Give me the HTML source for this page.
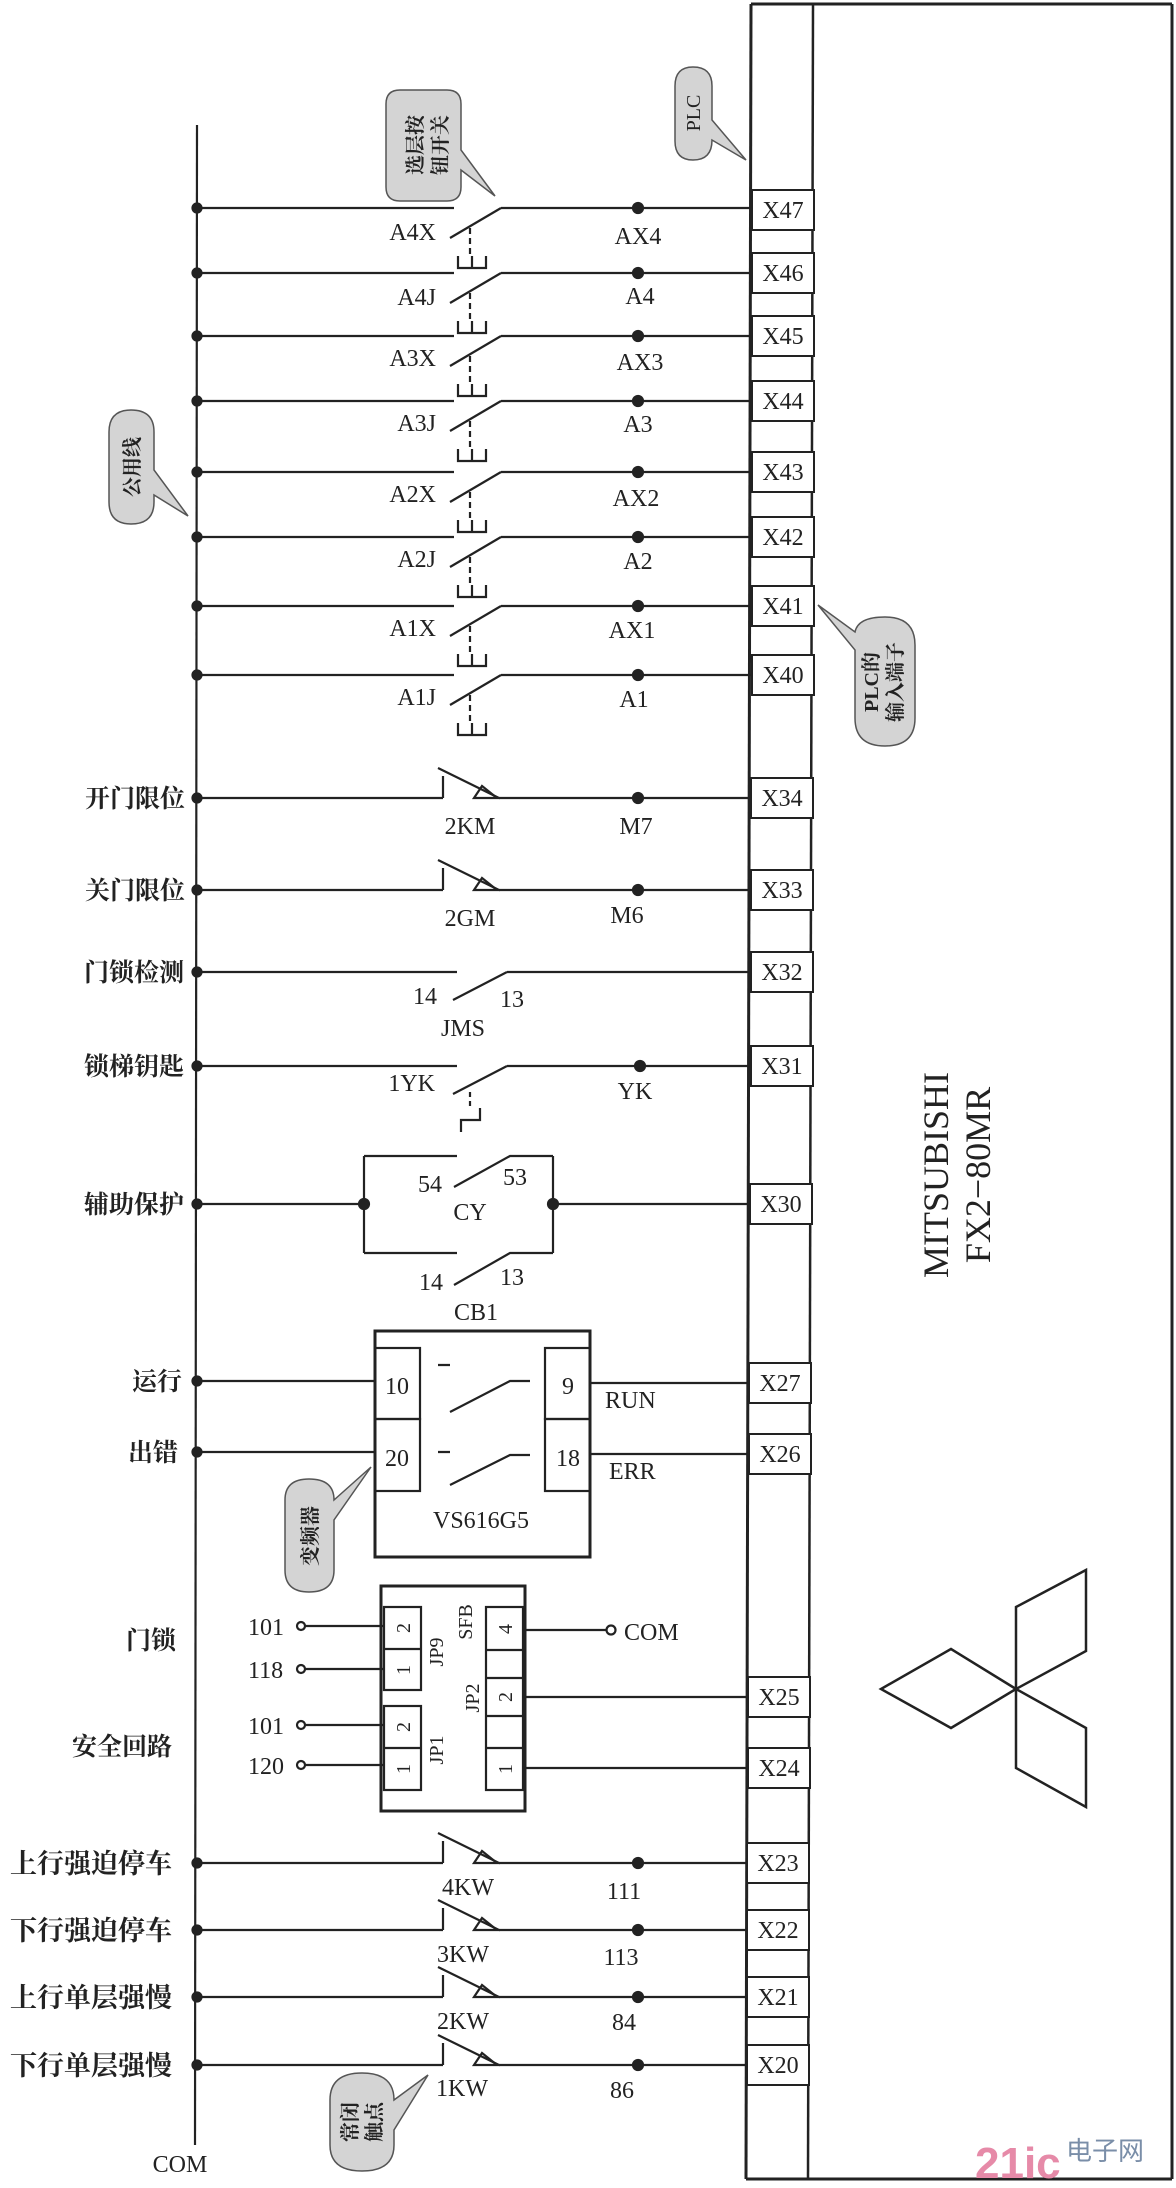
<!DOCTYPE html>
<html><head><meta charset="utf-8"><style>
html,body{margin:0;padding:0;background:#fff;}
svg{display:block;}
text{font-family:"Liberation Serif","Noto Serif CJK SC",serif;fill:#222;}
.cn{font-family:"Liberation Serif","Noto Serif CJK SC",serif;font-weight:bold;font-size:25px;}
.l{font-size:24px;}
</style></head><body>
<svg width="1176" height="2188" viewBox="0 0 1176 2188" xmlns="http://www.w3.org/2000/svg">
<defs>
<g id="top">
<line x1="197" y1="0" x2="454" y2="0"/>
<line x1="450" y1="30" x2="501" y2="0"/>
<line x1="501" y1="0" x2="752" y2="0"/>
<circle cx="638" cy="0" r="5" fill="#222"/>
<circle cx="197" cy="0" r="4.5" fill="#222"/>
<line x1="470" y1="20" x2="470" y2="46" stroke-dasharray="6,4"/>
<path d="M458,48 V60 H486 V48 M472,48 V60" fill="none"/>
</g>
<g id="nc">
<line x1="197" y1="0" x2="443" y2="0"/>
<line x1="443" y1="0" x2="443" y2="-22"/>
<line x1="438" y1="-30" x2="499" y2="0"/>
<path d="M474,0 L497,0 L482,-12 Z" fill="none"/>
<line x1="499" y1="0" x2="752" y2="0"/>
<circle cx="638" cy="0" r="5" fill="#222"/>
<circle cx="197" cy="0" r="4.5" fill="#222"/>
</g>
</defs>
<g stroke="#222" stroke-width="2.2" fill="none">
<line x1="751" y1="4" x2="1172" y2="4" stroke-width="3"/>
<line x1="751" y1="4" x2="746" y2="2179" stroke-width="3"/>
<line x1="813" y1="4" x2="808" y2="2179" stroke-width="2.5"/>
<line x1="1172" y1="4" x2="1172" y2="2179" stroke-width="3"/>
<line x1="746" y1="2179" x2="1172" y2="2179" stroke-width="3"/>
<line x1="197" y1="125" x2="195" y2="2145"/>
<use href="#top" y="208"/><use href="#top" y="273"/><use href="#top" y="336"/><use href="#top" y="401"/>
<use href="#top" y="472"/><use href="#top" y="537"/><use href="#top" y="606"/><use href="#top" y="675"/>
<use href="#nc" y="798"/><use href="#nc" y="890"/>
<line x1="197" y1="972" x2="457" y2="972"/><line x1="453" y1="1000" x2="507" y2="972"/><line x1="507" y1="972" x2="752" y2="972"/>
<circle cx="197" cy="972" r="4.5" fill="#222"/>
<line x1="197" y1="1066" x2="457" y2="1066"/><line x1="453" y1="1094" x2="507" y2="1066"/><line x1="507" y1="1066" x2="752" y2="1066"/>
<circle cx="197" cy="1066" r="4.5" fill="#222"/><circle cx="640" cy="1066" r="5" fill="#222"/>
<line x1="470" y1="1092" x2="470" y2="1108" stroke-dasharray="5,4"/>
<path d="M461,1132 V1120 H480 V1108" />
<line x1="197" y1="1204" x2="364" y2="1204"/><line x1="553" y1="1204" x2="752" y2="1204"/>
<circle cx="197" cy="1204" r="4.5" fill="#222"/><circle cx="364" cy="1204" r="5" fill="#222"/><circle cx="553" cy="1204" r="5" fill="#222"/>
<path d="M364,1156 V1253 M553,1156 V1253 M364,1156 H457 M454,1187 L510,1156 H553 M364,1253 H457 M454,1285 L510,1253 H553"/>
<rect x="375" y="1331" width="215" height="226" stroke-width="3"/>
<rect x="375" y="1348" width="45" height="71"/><rect x="375" y="1419" width="45" height="72"/>
<rect x="545" y="1348" width="45" height="71"/><rect x="545" y="1419" width="45" height="72"/>
<line x1="197" y1="1381" x2="375" y2="1381"/><line x1="197" y1="1452" x2="375" y2="1452"/>
<circle cx="197" cy="1381" r="4.5" fill="#222"/><circle cx="197" cy="1452" r="4.5" fill="#222"/>
<line x1="590" y1="1383" x2="752" y2="1383"/><line x1="590" y1="1454" x2="752" y2="1454"/>
<path d="M438,1365 H450 M450,1412 L510,1381 H530 M438,1452 H450 M450,1485 L510,1455 H530"/>
<rect x="381" y="1586" width="144" height="225" stroke-width="3"/>
<rect x="384" y="1607" width="37" height="83"/><line x1="384" y1="1649" x2="421" y2="1649"/>
<rect x="384" y="1706" width="37" height="84"/><line x1="384" y1="1748" x2="421" y2="1748"/>
<rect x="486" y="1607" width="37" height="183"/>
<line x1="486" y1="1650" x2="523" y2="1650"/><line x1="486" y1="1678" x2="523" y2="1678"/>
<line x1="486" y1="1716" x2="523" y2="1716"/><line x1="486" y1="1748" x2="523" y2="1748"/>
<path d="M305,1626 H384 M305,1669 H384 M305,1725 H384 M305,1765 H384 M523,1630 H606 M523,1697 H752 M523,1768 H752"/>
<circle cx="301" cy="1626" r="4"/><circle cx="301" cy="1669" r="4"/><circle cx="301" cy="1725" r="4"/><circle cx="301" cy="1765" r="4"/><circle cx="611" cy="1630" r="4.5"/>
<use href="#nc" y="1863"/><use href="#nc" y="1930"/><use href="#nc" y="1997"/><use href="#nc" y="2065"/>
<g fill="#fff" stroke-width="2">
<rect x="752" y="190" width="62" height="40"/><rect x="752" y="253" width="62" height="40"/><rect x="752" y="316" width="62" height="40"/><rect x="752" y="381" width="62" height="40"/>
<rect x="752" y="452" width="62" height="40"/><rect x="752" y="517" width="62" height="40"/><rect x="752" y="586" width="62" height="40"/><rect x="752" y="655" width="62" height="40"/>
<rect x="751" y="778" width="62" height="40"/><rect x="751" y="870" width="62" height="40"/><rect x="751" y="952" width="62" height="40"/><rect x="751" y="1046" width="62" height="40"/>
<rect x="750" y="1184" width="62" height="40"/><rect x="749" y="1363" width="62" height="40"/><rect x="749" y="1434" width="62" height="40"/>
<rect x="748" y="1677" width="62" height="40"/><rect x="748" y="1748" width="62" height="40"/><rect x="747" y="1843" width="62" height="40"/>
<rect x="747" y="1910" width="62" height="40"/><rect x="747" y="1977" width="62" height="40"/><rect x="747" y="2045" width="62" height="40"/>
</g>
<path d="M1016,1689 L1016,1607 L1086,1570 L1086,1651 Z M1016,1689 L1086,1728 L1086,1807 L1016,1768 Z M1016,1689 L951,1649 L881,1689 L951,1728 Z" stroke-width="2.5"/>
<g fill="#d4d4d4" stroke="#555" stroke-width="1.5">
<path d="M400,90 H447 Q461,90 461,104 V150 L495,196 L461,170 V187 Q461,201 447,201 H400 Q386,201 386,187 V104 Q386,90 400,90 Z"/>
<path d="M693,67 Q712,67 712,86 V120 L746,160 L712,140 Q712,160 693,160 Q675,160 675,141 V86 Q675,67 693,67 Z"/>
<path d="M131,410 Q154,410 154,432 V470 L188,516 L154,495 V502 Q154,524 131,524 Q109,524 109,502 V432 Q109,410 131,410 Z"/>
<path d="M885,617 Q915,617 915,645 V718 Q915,746 885,746 Q855,746 855,718 V650 L818,605 L855,632 Q858,617 885,617 Z"/>
<path d="M309,1479 Q334,1479 334,1500 L371,1467 L334,1520 V1570 Q334,1592 309,1592 Q285,1592 285,1570 V1500 Q285,1479 309,1479 Z"/>
<path d="M362,2073 Q394,2073 394,2100 L428,2075 L394,2130 V2145 Q394,2171 362,2171 Q330,2171 330,2145 V2100 Q330,2073 362,2073 Z"/>
</g>
</g>
<g class="cn" font-size="20">
<text transform="translate(422,145) rotate(-90)" text-anchor="middle" style="font-size:20px">选层按</text>
<text transform="translate(447,145) rotate(-90)" text-anchor="middle" style="font-size:20px">钮开关</text>
<text transform="translate(700,113) rotate(-90)" text-anchor="middle" style="font-family:'Liberation Serif';font-size:20px;font-weight:normal">PLC</text>
<text transform="translate(139,467) rotate(-90)" text-anchor="middle" style="font-size:20px">公用线</text>
<text transform="translate(878,682) rotate(-90)" text-anchor="middle" style="font-size:20px">PLC的</text>
<text transform="translate(902,682) rotate(-90)" text-anchor="middle" style="font-size:20px">输入端子</text>
<text transform="translate(317,1536) rotate(-90)" text-anchor="middle" style="font-size:20px">变频器</text>
<text transform="translate(357,2122) rotate(-90)" text-anchor="middle" style="font-size:20px">常闭</text>
<text transform="translate(381,2122) rotate(-90)" text-anchor="middle" style="font-size:20px">触点</text>
</g>
<g class="l">
<g text-anchor="end">
<text x="436" y="240">A4X</text><text x="436" y="305">A4J</text><text x="436" y="366">A3X</text><text x="436" y="431">A3J</text>
<text x="436" y="502">A2X</text><text x="436" y="567">A2J</text><text x="436" y="636">A1X</text><text x="436" y="705">A1J</text>
<text x="435" y="1091">1YK</text>
</g>
<g text-anchor="middle">
<text x="638" y="244">AX4</text><text x="640" y="304">A4</text><text x="640" y="370">AX3</text><text x="638" y="432">A3</text>
<text x="636" y="506">AX2</text><text x="638" y="569">A2</text><text x="632" y="638">AX1</text><text x="634" y="707">A1</text>
<text x="470" y="834">2KM</text><text x="636" y="834">M7</text><text x="470" y="926">2GM</text><text x="627" y="923">M6</text>
<text x="425" y="1004">14</text><text x="512" y="1007">13</text><text x="463" y="1036">JMS</text>
<text x="635" y="1099">YK</text>
<text x="430" y="1192">54</text><text x="515" y="1185">53</text><text x="470" y="1220">CY</text>
<text x="431" y="1290">14</text><text x="512" y="1285">13</text><text x="476" y="1320">CB1</text>
<text x="397" y="1394">10</text><text x="397" y="1466">20</text><text x="568" y="1394">9</text><text x="568" y="1466">18</text>
<text x="481" y="1528">VS616G5</text>
<text x="468" y="1895">4KW</text><text x="624" y="1899">111</text>
<text x="463" y="1962">3KW</text><text x="621" y="1965">113</text>
<text x="463" y="2029">2KW</text><text x="624" y="2030">84</text>
<text x="462" y="2096">1KW</text><text x="622" y="2098">86</text>
<text x="180" y="2172">COM</text>
</g>
<text x="605" y="1408">RUN</text><text x="609" y="1479">ERR</text>
<text x="624" y="1640">COM</text>
<text x="248" y="1635">101</text><text x="248" y="1678">118</text><text x="248" y="1734">101</text><text x="248" y="1774">120</text>
<g style="font-size:20px" text-anchor="middle">
<text transform="translate(410,1628) rotate(-90)">2</text><text transform="translate(410,1670) rotate(-90)">1</text>
<text transform="translate(410,1727) rotate(-90)">2</text><text transform="translate(410,1769) rotate(-90)">1</text>
<text transform="translate(512,1629) rotate(-90)">4</text><text transform="translate(512,1697) rotate(-90)">2</text><text transform="translate(512,1769) rotate(-90)">1</text>
<text transform="translate(443,1652) rotate(-90)">JP9</text><text transform="translate(472,1622) rotate(-90)">SFB</text>
<text transform="translate(479,1698) rotate(-90)">JP2</text><text transform="translate(443,1750) rotate(-90)">JP1</text>
</g>
<g text-anchor="middle" style="font-size:24px">
<text x="783" y="218">X47</text><text x="783" y="281">X46</text><text x="783" y="344">X45</text><text x="783" y="409">X44</text>
<text x="783" y="480">X43</text><text x="783" y="545">X42</text><text x="783" y="614">X41</text><text x="783" y="683">X40</text>
<text x="782" y="806">X34</text><text x="782" y="898">X33</text><text x="782" y="980">X32</text><text x="782" y="1074">X31</text>
<text x="781" y="1212">X30</text><text x="780" y="1391">X27</text><text x="780" y="1462">X26</text>
<text x="779" y="1705">X25</text><text x="779" y="1776">X24</text><text x="778" y="1871">X23</text>
<text x="778" y="1938">X22</text><text x="778" y="2005">X21</text><text x="778" y="2073">X20</text>
</g>
</g>
<g class="cn" text-anchor="end">
<text x="185" y="807">开门限位</text><text x="185" y="899">关门限位</text><text x="184" y="981">门锁检测</text>
<text x="184" y="1075">锁梯钥匙</text><text x="184" y="1213">辅助保护</text>
<text x="182" y="1390">运行</text><text x="178" y="1461">出错</text>
<text x="176" y="1649">门锁</text><text x="172" y="1755">安全回路</text>
<text x="172" y="1873" style="font-size:27px">上行强迫停车</text><text x="172" y="1940" style="font-size:27px">下行强迫停车</text>
<text x="172" y="2007" style="font-size:27px">上行单层强慢</text><text x="172" y="2075" style="font-size:27px">下行单层强慢</text>
</g>
<text transform="translate(948,1175) rotate(-90)" text-anchor="middle" style="font-size:36px">MITSUBISHI</text>
<text transform="translate(990,1175) rotate(-90)" text-anchor="middle" style="font-size:36px">FX2−80MR</text>
<text x="975" y="2178" style="font-family:'Liberation Sans',sans-serif;font-weight:bold;font-size:44px;fill:#e68aa8">21ic</text>
<text x="1066" y="2160" style="font-family:'Liberation Sans','Noto Sans CJK SC',sans-serif;font-size:26px;fill:#7a8ea8">电子网</text>
</svg>
</body></html>
